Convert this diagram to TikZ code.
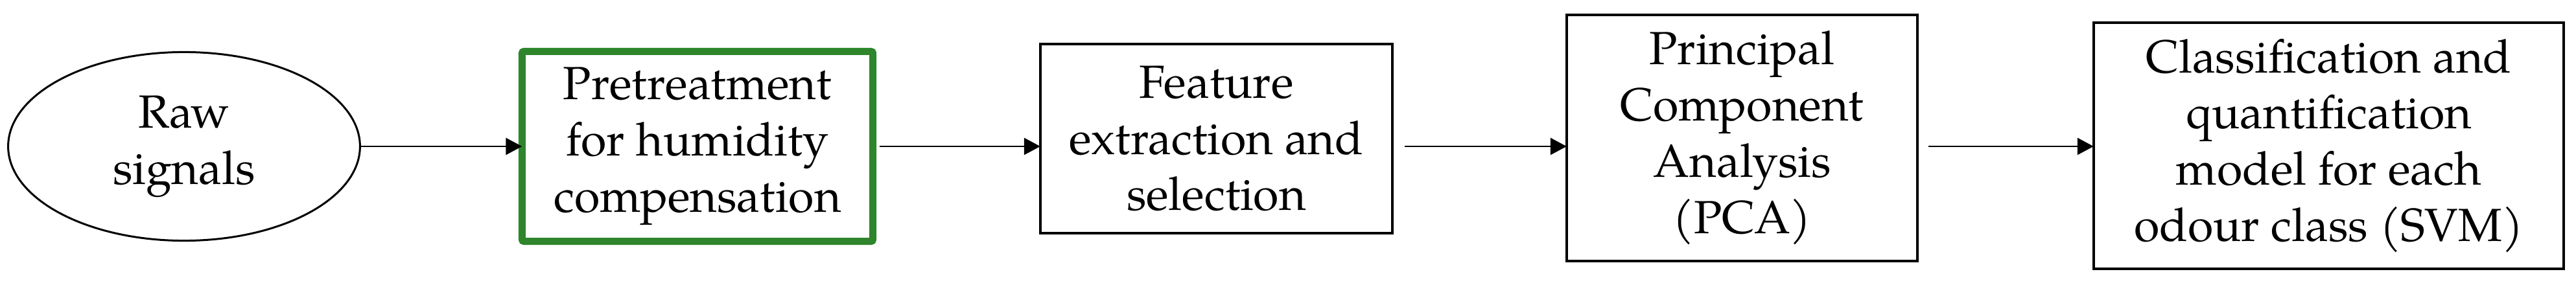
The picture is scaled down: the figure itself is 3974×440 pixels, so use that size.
\documentclass[tikz,border=0pt]{standalone}
\usepackage{fontspec}
\setmainfont{texgyrepagella}[Extension=.otf,UprightFont=*-regular,BoldFont=*-bold,ItalicFont=*-italic]
\usetikzlibrary{shapes.geometric,arrows.meta}
\definecolor{boxgreen}{RGB}{46,133,43}
\tikzset{
  lbl/.style={align=center,font=\fontsize{20.4pt}{24.7pt}\selectfont,inner sep=0pt,outer sep=0pt},
  stagebox/.style={lbl,draw=black,line width=0.04cm,rectangle},
  greenbox/.style={lbl,draw=boxgreen,line width=0.11cm,rectangle,rounded corners=0.03cm},
  startnode/.style={lbl,draw=black,line width=0.03cm,ellipse},
  flow/.style={draw=black,line width=0.027cm,-{Triangle[length=0.25cm,width=0.26cm]}}
}
\begin{document}
\begin{tikzpicture}[x=0.01cm,y=-0.01cm]
\useasboundingbox (0,0) rectangle (3974,440);
\node[startnode,minimum width=5.425cm,minimum height=2.91cm] (raw) at (284,226) {Raw\\signals};
\node[greenbox,minimum width=5.41cm,minimum height=2.93cm] (pre) at (1076,226) {Pretreatment\\for humidity\\compensation};
\node[stagebox,minimum width=5.43cm,minimum height=2.92cm] (feat) at (1876.5,214) {Feature\\extraction and\\selection};
\node[stagebox,minimum width=5.41cm,minimum height=3.80cm] (pca) at (2687.5,213) {Principal\\Component\\Analysis\\(PCA)};
\node[stagebox,minimum width=7.25cm,minimum height=3.80cm] (cls) at (3592.5,225) {Classification and\\quantification\\model for each\\odour class (SVM)};
\draw[flow] (raw.east) -- (pre.west |- raw.east);
\draw[flow] ([xshift=0.1cm]pre.east) -- (feat.west |- pre.east);
\draw[flow] ([xshift=0.19cm]feat.east |- raw.east) -- (pca.west |- raw.east);
\draw[flow] ([xshift=0.17cm]pca.east |- raw.east) -- (cls.west |- raw.east);
\end{tikzpicture}
\end{document}
